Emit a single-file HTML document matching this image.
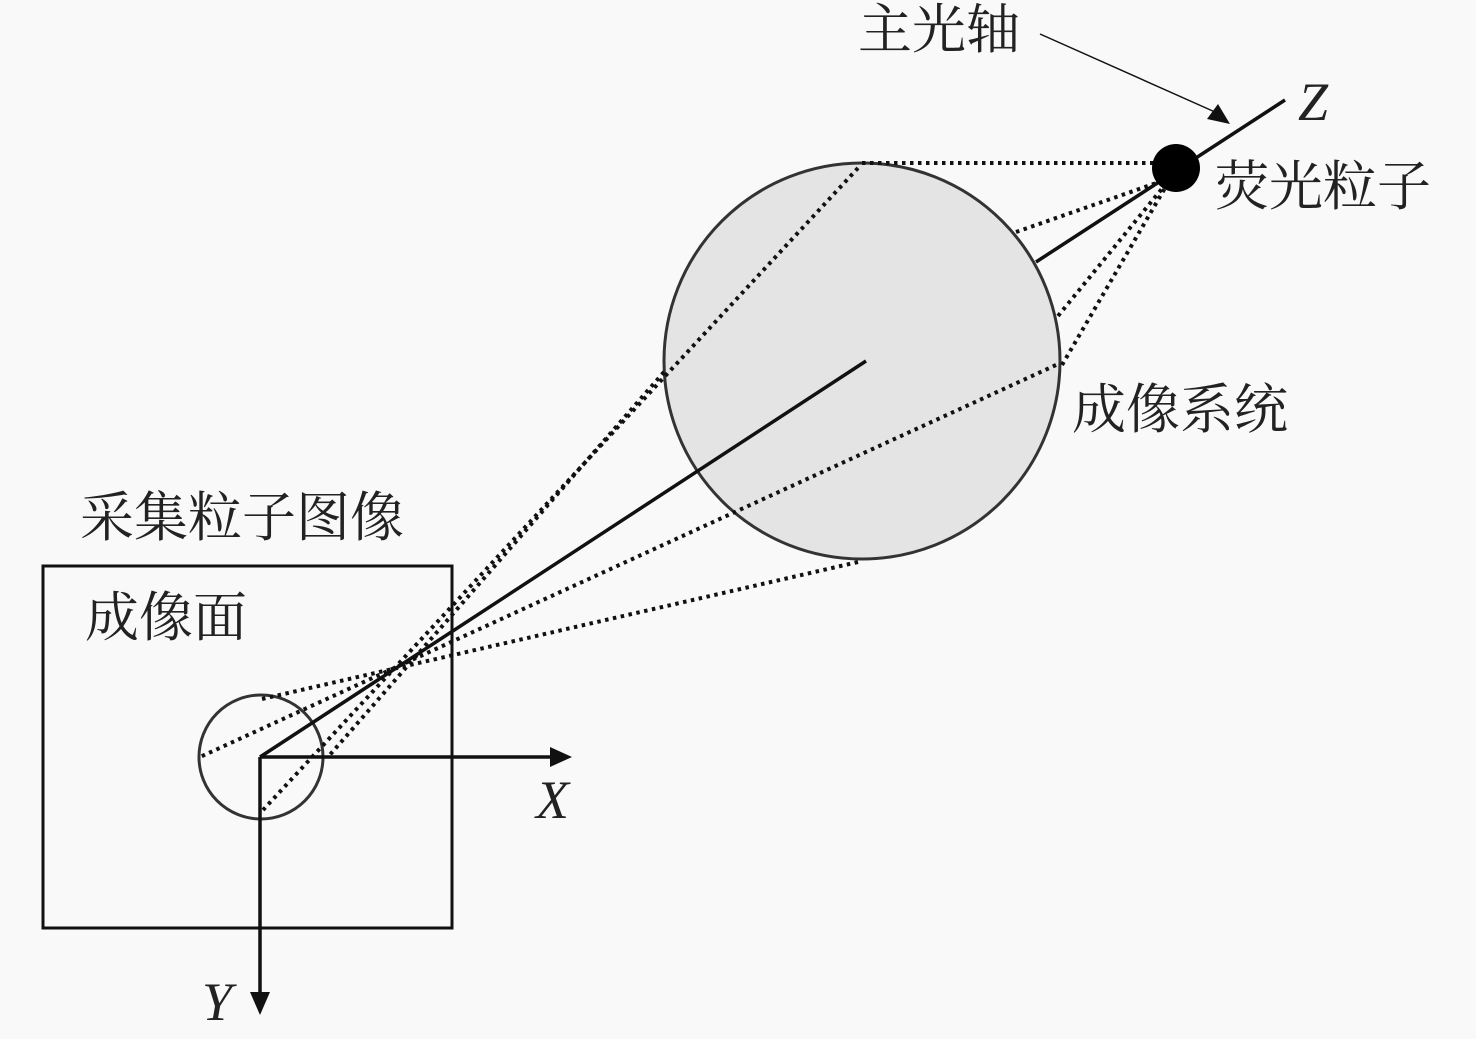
<!DOCTYPE html>
<html><head><meta charset="utf-8"><style>
html,body{margin:0;padding:0;background:#f9f9f9;}
svg{display:block}
.c{font-family:"Liberation Serif","Noto Serif CJK SC",serif;font-size:54px;fill:#222}
.i{font-family:"Liberation Serif",serif;font-style:italic;font-size:54px;fill:#222}
</style></head><body>
<svg width="1476" height="1039" viewBox="0 0 1476 1039">
<rect width="1476" height="1039" fill="#f9f9f9"/>
<circle cx="862" cy="361" r="198" fill="#e4e4e4" stroke="#333" stroke-width="3"/>
<rect x="43" y="566" width="409" height="362" fill="none" stroke="#111" stroke-width="3"/>
<circle cx="261" cy="757" r="62" fill="none" stroke="#333" stroke-width="3"/>
<g stroke="#111" stroke-width="4" stroke-dasharray="3.5,4.5" fill="none">
<line x1="862" y1="163" x2="1165" y2="163"/>
<line x1="1016" y1="232" x2="1165" y2="180"/>
<line x1="1058" y1="316" x2="1165" y2="185"/>
<line x1="1062" y1="365" x2="1165" y2="188"/>
<line x1="858" y1="168" x2="263" y2="810"/>
<line x1="1056" y1="365" x2="200" y2="757"/>
<line x1="858" y1="562" x2="262" y2="699"/>
<line x1="664" y1="372" x2="328" y2="757"/>
</g>
<g stroke="#111" stroke-width="3.5" fill="none">
<line x1="260" y1="757" x2="866" y2="361"/>
<line x1="1036" y1="262" x2="1285" y2="100"/>
<line x1="260" y1="757" x2="555" y2="757"/>
<line x1="260" y1="757" x2="260" y2="995"/>
</g>
<polygon points="572,757 550,747 550,767" fill="#111"/>
<polygon points="260,1015 250,992 270,992" fill="#111"/>
<line x1="1040" y1="34" x2="1215" y2="112" stroke="#111" stroke-width="1.5"/>
<polygon points="1230,124 1207,119 1218,104" fill="#111"/>
<circle cx="1176" cy="168" r="24" fill="#000"/>
<text class="c" x="858" y="48">主光轴</text>
<text class="i" x="1298" y="120">Z</text>
<text class="c" x="1215" y="205">荧光粒子</text>
<text class="c" x="1072" y="428">成像系统</text>
<text class="c" x="80" y="536">采集粒子图像</text>
<text class="c" x="85" y="636">成像面</text>
<text class="i" x="536" y="818">X</text>
<text class="i" x="202" y="1020">Y</text>
</svg>
</body></html>
